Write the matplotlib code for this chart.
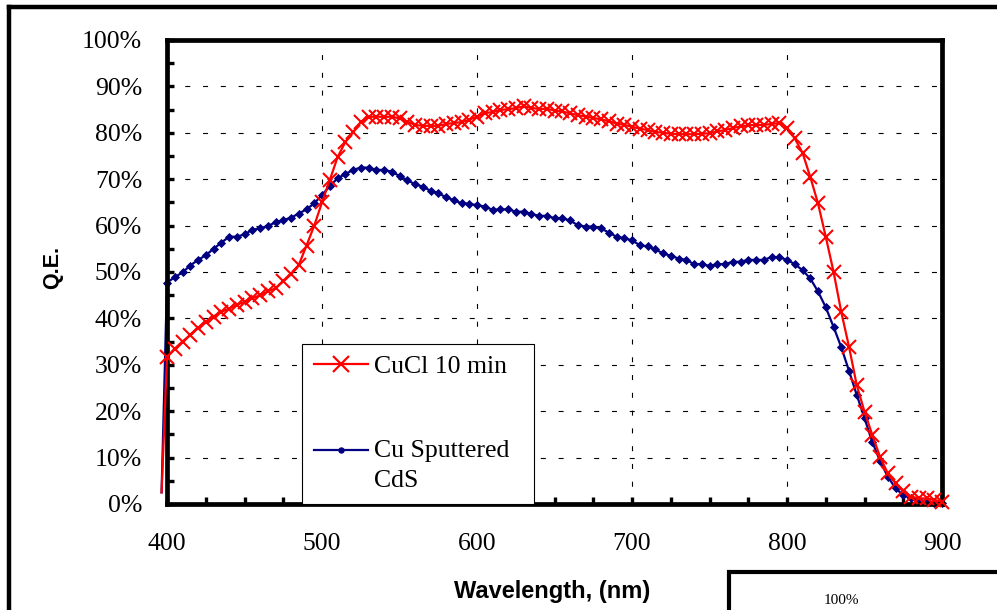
import numpy as np
import matplotlib
matplotlib.use("Agg")
import matplotlib.pyplot as plt
from matplotlib.ticker import MultipleLocator, FuncFormatter
from matplotlib.lines import Line2D
from matplotlib.patches import Rectangle
from matplotlib.legend_handler import HandlerLine2D

# ---------------- data ----------------
wavelength = np.arange(400, 905, 5)  # nm, 5 nm steps

cucl_qe = [31.7, 33.5, 35.0, 36.4, 37.9, 39.3, 40.4, 41.4, 42.1, 42.9,
           43.6, 44.3, 45.0, 45.8, 46.5, 48.0, 49.5, 51.5, 55.7, 60.0,
           65.0, 69.8, 74.7, 78.0, 80.1, 82.3, 83.4, 83.5, 83.4, 83.5,
           83.1, 82.4, 81.7, 81.5, 81.5, 81.5, 81.9, 82.1, 82.3, 82.8,
           83.5, 84.2, 84.5, 84.9, 85.1, 85.3, 85.7, 85.4, 85.1, 85.2,
           84.8, 84.6, 84.2, 83.8, 83.5, 83.2, 82.9, 82.5, 82.0, 81.7,
           81.3, 80.9, 80.6, 80.2, 80.0, 79.8, 79.7, 79.7, 79.7, 79.8,
           79.9, 80.3, 80.6, 81.0, 81.4, 81.6, 81.7, 81.7, 81.9, 82.1,
           81.0, 78.8, 75.7, 70.5, 64.8, 57.6, 50.1, 41.4, 33.9, 25.6,
           19.9, 14.9, 10.2, 6.6, 4.5, 2.7, 1.6, 1.2, 1.2, 0.9,
           0.5]

cds_qe = [47.7, 48.9, 49.9, 51.4, 52.6, 53.6, 55.0, 56.3, 57.6, 57.6,
          58.1, 59.1, 59.4, 59.9, 60.7, 61.2, 61.7, 62.6, 63.5, 64.8,
          66.6, 68.5, 70.2, 71.1, 72.0, 72.5, 72.5, 72.0, 72.0, 71.6,
          70.7, 69.8, 68.9, 68.4, 67.5, 67.0, 66.1, 65.5, 64.8, 64.7,
          64.4, 64.1, 63.4, 63.5, 63.5, 63.0, 63.0, 62.5, 62.1, 62.1,
          61.6, 61.6, 61.1, 60.1, 59.8, 59.8, 59.4, 58.5, 57.6, 57.3,
          56.8, 55.8, 55.5, 54.9, 54.0, 53.5, 52.9, 52.6, 51.7, 51.7,
          51.3, 51.7, 51.7, 52.2, 52.2, 52.6, 52.6, 52.6, 53.2, 53.2,
          52.6, 51.7, 50.4, 48.6, 45.8, 42.4, 38.2, 33.8, 28.7, 23.5,
          18.5, 13.4, 9.3, 5.9, 3.4, 1.9, 1.2, 0.9, 0.5, 0.3,
          0.3]

# first (off-scale) reading of each curve, just left of 400 nm
start_wavelength = 396.5
cucl_start = 2.5
cds_start = 2.5

series_labels = ["CuCl 10 min", "Cu Sputtered\nCdS"]
x_ticks = [400, 500, 600, 700, 800, 900]
y_ticks = [0, 10, 20, 30, 40, 50, 60, 70, 80, 90, 100]

# ---------------- figure ----------------
W, H = 997, 610
fig = plt.figure(figsize=(W / 100, H / 100), dpi=100)
fig.patch.set_facecolor("white")

ax = fig.add_axes([167 / W, 106 / H, 775 / W, 464 / H])

serif = "Liberation Serif"
sans = "Liberation Sans"

red = "#FF0000"
navy = "#000080"

x_cds = np.r_[start_wavelength, wavelength]
y_cds = np.r_[cds_start, cds_qe]
x_cucl = np.r_[start_wavelength, wavelength]
y_cucl = np.r_[cucl_start, cucl_qe]

l_cds, = ax.plot(x_cds, y_cds, color=navy, lw=1.6, marker="D", ms=3.6,
                 markeredgewidth=0.6, markevery=slice(1, None),
                 clip_on=False, zorder=3)
l_cucl, = ax.plot(x_cucl, y_cucl, color=red, lw=1.6, marker="x", ms=9.5,
                  markeredgewidth=1.5, markevery=slice(1, None),
                  clip_on=False, zorder=4)

ax.set_xlim(400, 900)
ax.set_ylim(0, 100)

ax.xaxis.set_major_locator(plt.FixedLocator(x_ticks))
ax.xaxis.set_minor_locator(MultipleLocator(25))
ax.yaxis.set_major_locator(plt.FixedLocator(y_ticks))
ax.yaxis.set_minor_locator(MultipleLocator(5))
ax.yaxis.set_major_formatter(FuncFormatter(lambda v, p: f"{v:.0f}%"))

ax.tick_params(which="both", direction="in", length=5, width=2.4,
               color="black", top=False, right=False)
ax.tick_params(axis="both", which="major", labelsize=18.5,
               labelfontfamily=serif)
ax.tick_params(axis="y", which="major", pad=18)
ax.tick_params(axis="x", which="major", pad=21)

for s in ax.spines.values():
    s.set_linewidth(3.4)
    s.set_color("black")
    s.set_zorder(3.5)

grid_style = dict(color="black", lw=0.8, linestyle=(0, (4.5, 11.5)))
ax.grid(True, which="major", axis="both", **grid_style)
ax.set_axisbelow(True)

ax.set_ylabel("Q.E.", fontfamily=sans, fontweight="bold", fontsize=15.5,
              va="center", ha="center")
ax.yaxis.set_label_coords(-0.148, 0.51)
ax.set_xlabel("Wavelength, (nm)", fontfamily=sans, fontweight="bold",
              fontsize=17, va="center", ha="center")
ax.xaxis.set_label_coords(0.497, -0.188)


# ---------------- legend ----------------
class ShiftedHandler(HandlerLine2D):
    def __init__(self, dy=0.0, **kw):
        super().__init__(**kw)
        self.dy = dy

    def create_artists(self, legend, orig_handle, xdescent, ydescent,
                       width, height, fontsize, trans):
        return super().create_artists(legend, orig_handle, xdescent,
                                      ydescent - self.dy, width, height,
                                      fontsize, trans)


h_cucl = Line2D([], [], color=red, lw=1.6, marker="x", ms=11,
                markeredgewidth=1.6)
h_cds = Line2D([], [], color=navy, lw=1.6, marker="o", ms=3.6)

x0 = (302 - 167) / 775
w0 = (534 - 302) / 775
leg = ax.legend([h_cucl, h_cds], series_labels,
                loc="lower left", bbox_to_anchor=(x0, 0.0, w0, 0.35),
                mode="expand", borderaxespad=0.0,
                prop={"family": serif, "size": 18.5},
                frameon=True, fancybox=False, shadow=False,
                framealpha=1.0, edgecolor="black", facecolor="white",
                handlelength=2.1, handletextpad=0.25, borderpad=0.45,
                labelspacing=2.4, numpoints=1,
                handler_map={h_cds: ShiftedHandler(dy=23)})
leg.get_frame().set_linewidth(0.8)
leg.set_zorder(6)
for t in leg.get_texts():
    t.set_linespacing(1.5)

# ---------------- outer chart frame & neighbouring chart ----------------
fig.add_artist(Line2D([8.5 / W, 8.5 / W], [0, 1 - 6.5 / H],
                      transform=fig.transFigure, color="black", lw=3.2))
fig.add_artist(Line2D([8.5 / W, 1.0], [1 - 6.5 / H, 1 - 6.5 / H],
                      transform=fig.transFigure, color="black", lw=3.2))

fig.add_artist(Rectangle((728.5 / W, -0.05), 0.3, 1 - 571.5 / H + 0.05,
                         transform=fig.transFigure, fill=False,
                         edgecolor="black", lw=3.0))
fig.text(841 / W, 1 - 594 / H, "100%", family=serif, fontsize=11,
         ha="center", va="top")

fig.savefig("out.png", dpi=100, facecolor="white")
